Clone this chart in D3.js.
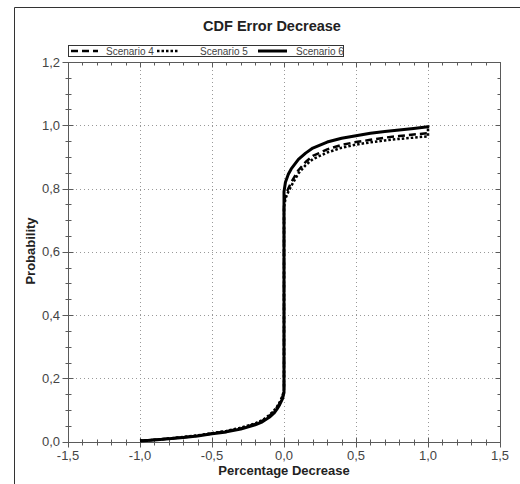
<!DOCTYPE html>
<html>
<head>
<meta charset="utf-8">
<script src="https://cdn.jsdelivr.net/npm/d3@7"></script>
<style>
  body { margin: 0; background: #fff; }
  svg { display: block; font-family: Arial, "Liberation Sans", sans-serif; }
</style>
</head>
<body>
<svg width="520" height="484"></svg>
<script>
// x positions sampled along the CDF (0 repeated for the jump, 1 repeated for the end)
var xValues = [-1, -0.9, -0.8, -0.7, -0.6, -0.5, -0.4, -0.3, -0.2, -0.15, -0.1, -0.07, -0.05, -0.03, -0.01, 0,
  0, 0.01, 0.03, 0.05, 0.1, 0.15, 0.2, 0.3, 0.4, 0.5, 0.6, 0.7, 0.8, 0.9, 1, 1];

var scenario4 = [0.003, 0.006, 0.010, 0.014, 0.019, 0.026, 0.033, 0.042, 0.056, 0.066, 0.082, 0.095, 0.107, 0.122, 0.142, 0.160,
  0.750, 0.780, 0.800, 0.820, 0.858, 0.884, 0.903, 0.924, 0.938, 0.947, 0.954, 0.961, 0.966, 0.971, 0.975, 0.990];
var scenario5 = [0.003, 0.006, 0.010, 0.015, 0.020, 0.027, 0.034, 0.044, 0.058, 0.068, 0.085, 0.098, 0.110, 0.125, 0.145, 0.165,
  0.740, 0.768, 0.790, 0.808, 0.848, 0.874, 0.893, 0.914, 0.929, 0.939, 0.946, 0.952, 0.957, 0.961, 0.965, 0.985];
var scenario6 = [0.002, 0.005, 0.009, 0.013, 0.018, 0.025, 0.031, 0.040, 0.053, 0.063, 0.078, 0.090, 0.102, 0.117, 0.136, 0.155,
  0.790, 0.820, 0.845, 0.862, 0.892, 0.912, 0.928, 0.947, 0.959, 0.967, 0.975, 0.980, 0.985, 0.990, 0.995, 1.000];

var seriesNames = ['Scenario 4', 'Scenario 5', 'Scenario 6'];
var xTicks = [-1.5, -1.0, -0.5, 0, 0.5, 1.0, 1.5];
var yTicks = [0, 0.2, 0.4, 0.6, 0.8, 1.0, 1.2];

var svg = d3.select('svg');
var plotLeft = 68, plotRight = 500, plotTop = 62, plotBottom = 441.7;
var axisColor = '#5a5a5a';
var fmt = d => d.toFixed(1).replace('.', ',');

var xScale = d3.scaleLinear().domain([-1.5, 1.5]).range([plotLeft, plotRight]);
var yScale = d3.scaleLinear().domain([0, 1.2]).range([plotBottom, plotTop]);

// outer frame (left and top edges only show)
svg.append('line').attr('x1', 14.5).attr('y1', 7.5).attr('x2', 520).attr('y2', 7.5)
  .attr('stroke', '#333').attr('stroke-width', 1);
svg.append('line').attr('x1', 14.5).attr('y1', 7.5).attr('x2', 14.5).attr('y2', 484)
  .attr('stroke', '#333').attr('stroke-width', 1);

// grid
svg.append('g').selectAll('line')
  .data(xTicks.filter(d => d > -1.5 && d < 1.5))
  .enter().append('line')
  .attr('x1', d => Math.round(xScale(d)) + 0.5).attr('x2', d => Math.round(xScale(d)) + 0.5)
  .attr('y1', plotTop).attr('y2', plotBottom)
  .attr('stroke', '#999').attr('stroke-dasharray', '1,3');
svg.append('g').selectAll('line')
  .data(yTicks.filter(d => d > 0 && d < 1.2))
  .enter().append('line')
  .attr('y1', d => Math.round(yScale(d)) + 0.5).attr('y2', d => Math.round(yScale(d)) + 0.5)
  .attr('x1', plotLeft).attr('x2', plotRight)
  .attr('stroke', '#999').attr('stroke-dasharray', '1,3');

// axes: bottom/left ticks cross the line, top/right ticks point inward
var xMinor = d3.range(-15, 16).map(d => d / 10).filter(d => Math.abs(d * 2 - Math.round(d * 2)) > 1e-6);
var yMinor = d3.range(0, 25).map(d => d / 20).filter(d => Math.abs(d * 5 - Math.round(d * 5)) > 1e-6);

function tickLines(g, scale, ticks, horizontal, pos) {
  g.selectAll(null).data(ticks).enter().append('line')
    .attr(horizontal ? 'x1' : 'y1', d => Math.round(scale(d)) + 0.5)
    .attr(horizontal ? 'x2' : 'y2', d => Math.round(scale(d)) + 0.5)
    .attr(horizontal ? 'y1' : 'x1', pos[0])
    .attr(horizontal ? 'y2' : 'x2', pos[1])
    .attr('stroke', axisColor);
}

var axes = svg.append('g');
var bx = Math.round(plotBottom) + 0.5, lx = plotLeft + 0.5, tx = plotTop + 0.5, rx = plotRight + 0.5;
tickLines(axes, xScale, xTicks, true, [bx - 5, bx + 5]);
tickLines(axes, xScale, xMinor, true, [bx - 3, bx + 3]);
tickLines(axes, xScale, xTicks, true, [tx, tx + 5]);
tickLines(axes, xScale, xMinor, true, [tx, tx + 3]);
tickLines(axes, yScale, yTicks, false, [lx - 6, lx + 5]);
tickLines(axes, yScale, yMinor, false, [lx - 3, lx + 3]);
tickLines(axes, yScale, yTicks, false, [rx - 5, rx]);
tickLines(axes, yScale, yMinor, false, [rx - 3, rx]);
axes.append('rect')
  .attr('x', lx).attr('y', tx).attr('width', rx - lx).attr('height', bx - tx)
  .attr('fill', 'none').attr('stroke', axisColor);

// tick labels
svg.append('g').selectAll('text').data(xTicks).enter().append('text')
  .attr('x', d => xScale(d)).attr('y', 460)
  .attr('text-anchor', 'middle').attr('font-size', 13).attr('fill', '#444')
  .text(fmt);
svg.append('g').selectAll('text').data(yTicks).enter().append('text')
  .attr('x', 60).attr('y', d => yScale(d)).attr('dy', '0.35em')
  .attr('text-anchor', 'end').attr('font-size', 13).attr('fill', '#444')
  .text(fmt);

// curves
var line = d3.line().x(d => xScale(d[0])).y(d => yScale(d[1]));
var series = [
  { name: seriesNames[0], values: scenario4, dash: '7,4', width: 2.5 },
  { name: seriesNames[1], values: scenario5, dash: '2.5,2', width: 2.5 },
  { name: seriesNames[2], values: scenario6, dash: null, width: 3 }
];
svg.append('g').selectAll('path').data(series).enter().append('path')
  .attr('d', s => line(xValues.map((x, i) => [x, s.values[i]])))
  .attr('fill', 'none').attr('stroke', '#000')
  .attr('stroke-width', s => s.width)
  .attr('stroke-dasharray', s => s.dash)
  .attr('stroke-linejoin', 'round');

// titles
svg.append('text').attr('x', 272).attr('y', 31)
  .attr('text-anchor', 'middle').attr('font-size', 14.5).attr('font-weight', 'bold')
  .attr('fill', '#222').text('CDF Error Decrease');
svg.append('text').attr('x', 284).attr('y', 475)
  .attr('text-anchor', 'middle').attr('font-size', 13).attr('font-weight', 'bold')
  .attr('fill', '#222').text('Percentage Decrease');
svg.append('text').attr('transform', 'translate(35,251) rotate(-90)')
  .attr('text-anchor', 'middle').attr('font-size', 13).attr('font-weight', 'bold')
  .attr('fill', '#222').text('Probability');

// legend
var legend = svg.append('g');
legend.append('rect').attr('x', 68.5).attr('y', 45.5).attr('width', 275).attr('height', 11)
  .attr('fill', '#fff').attr('stroke', '#333');
var legendPos = [{ x1: 71, x2: 98, tx: 106 }, { x1: 157, x2: 178, tx: 200 }, { x1: 258, x2: 287, tx: 296 }];
series.forEach(function(s, i) {
  var p = legendPos[i];
  legend.append('line').attr('x1', p.x1).attr('x2', p.x2).attr('y1', 51).attr('y2', 51)
    .attr('stroke', '#000').attr('stroke-width', s.width)
    .attr('stroke-dasharray', s.dash);
  legend.append('text').attr('x', p.tx).attr('y', 55).attr('font-size', 10)
    .attr('fill', '#444').text(s.name);
});
</script>
</body>
</html>
